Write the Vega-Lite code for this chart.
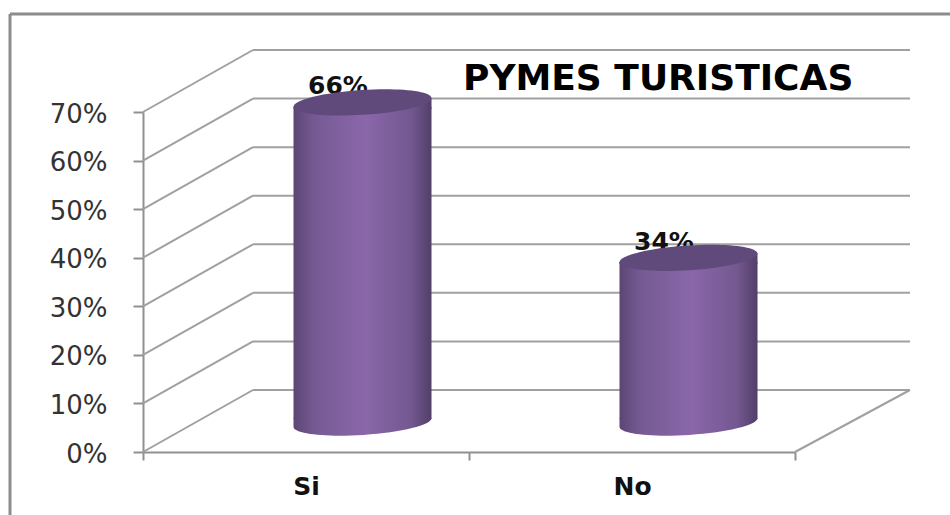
{
"$schema":"https://vega.github.io/schema/vega-lite/v6.json",
"width":652,"height":340,
"autosize":"none",
"padding":{"left":143,"top":112,"right":155,"bottom":63},
"background":"white",
"view":{"stroke":null},
"title":{"text":"PYMES TURISTICAS","anchor":"start","frame":"group","orient":"top","dx":320,"dy":135,"offset":22,"baseline":"alphabetic","font":"DejaVu Sans","fontWeight":"bold","fontSize":36,"color":"#000000"},
"datasets":{
"bars":[{"respuesta":"Si","porcentaje":0.66},{"respuesta":"No","porcentaje":0.34}],
"grid":[{"v":0},{"v":0.1},{"v":0.2},{"v":0.3},{"v":0.4},{"v":0.5},{"v":0.6},{"v":0.7}]
},
"layer":[
{"data":{"name":"grid"},"mark":{"type":"rule","color":"#a0a0a0","strokeWidth":2,"y2Offset":-62},
 "encoding":{"x":{"value":0},"x2":{"value":110},"y":{"field":"v","type":"quantitative","scale":{"domain":[0,0.7],"nice":false},"axis":{"values":[0,0.1,0.2,0.3,0.4,0.5,0.6,0.7],"format":".0%","title":null,"grid":false,"domainColor":"#909090","domainWidth":2,"tickColor":"#909090","tickWidth":2,"tickSize":10,"labelFont":"DejaVu Sans","labelFontSize":26,"labelColor":"#333333","labelPadding":26,"labelOffset":2}},"y2":{"field":"v"}}},
{"data":{"name":"grid"},"mark":{"type":"rule","color":"#a0a0a0","strokeWidth":2,"yOffset":-62},
 "encoding":{"x":{"value":110},"x2":{"value":767},"y":{"field":"v","type":"quantitative"}}},
{"data":{"values":[{"v":0}]},"mark":{"type":"rule","color":"#a0a0a0","strokeWidth":2,"y2Offset":-62},
 "encoding":{"x":{"value":652},"x2":{"value":767},"y":{"field":"v","type":"quantitative"},"y2":{"field":"v"}}},
{"data":{"values":[{"v":0}]},"mark":{"type":"rule","color":"#8c8c8c","strokeWidth":3},
 "encoding":{"x":{"value":-133},"x2":{"value":807},"y":{"value":-98}}},
{"data":{"values":[{"v":0}]},"mark":{"type":"rule","color":"#8c8c8c","strokeWidth":3},
 "encoding":{"x":{"value":-133},"y":{"value":-98},"y2":{"value":403}}},
{"data":{"name":"bars"},"mark":{"type":"text","font":"DejaVu Sans","fontWeight":"bold","fontSize":25,"color":"#111111","baseline":"alphabetic","align":"center","xOffset":32,"yOffset":-37},
 "encoding":{"x":{"field":"respuesta","type":"nominal","sort":null,"scale":{"domain":["Si","No"],"paddingInner":0,"paddingOuter":0},"axis":{"title":null,"tickBand":"extent","labelAngle":0,"grid":false,"domainColor":"#909090","domainWidth":2,"tickColor":"#909090","tickWidth":2,"tickSize":8,"labelFont":"DejaVu Sans","labelFontWeight":"bold","labelFontSize":25,"labelColor":"#111111","labelPadding":14}},"y":{"field":"porcentaje","type":"quantitative"},"text":{"field":"porcentaje","type":"quantitative","format":".0%"}}},
{"data":{"name":"bars"},"mark":{"type":"bar","width":138,"xOffset":56.5,"yOffset":-24.5,"y2Offset":-33,
 "fill":{"x1":0,"x2":1,"y1":0,"y2":0,"gradient":"linear","stops":[{"offset":0,"color":"#5c4674"},{"offset":0.15,"color":"#755a92"},{"offset":0.52,"color":"#8a67aa"},{"offset":0.85,"color":"#735890"},{"offset":1,"color":"#523f68"}]}},
 "encoding":{"x":{"field":"respuesta","type":"nominal"},"y":{"field":"porcentaje","type":"quantitative"},"y2":{"datum":0}}},
{"data":{"name":"bars"},"mark":{"type":"point","filled":true,"opacity":1,"size":19044,"xOffset":56.5,"yOffset":-29,"shape":"M-1,0.065L1,-0.065L1,0.09L-1,0.09Z",
 "fill":{"x1":0,"x2":1,"y1":0,"y2":0,"gradient":"linear","stops":[{"offset":0,"color":"#5c4674"},{"offset":0.15,"color":"#755a92"},{"offset":0.52,"color":"#8a67aa"},{"offset":0.85,"color":"#735890"},{"offset":1,"color":"#523f68"}]}},
 "encoding":{"x":{"field":"respuesta","type":"nominal"},"y":{"field":"porcentaje","type":"quantitative"}}},
{"data":{"name":"bars"},"mark":{"type":"point","filled":true,"opacity":1,"size":19044,"xOffset":56.5,"yOffset":-29,"color":"#604a7b","shape":"M-1,0.065A1.002,0.18,-3.7,1,1,1,-0.065A1.002,0.18,-3.7,1,1,-1,0.065Z"},
 "encoding":{"x":{"field":"respuesta","type":"nominal"},"y":{"field":"porcentaje","type":"quantitative"}}},
{"data":{"values":[{"respuesta":"Si"},{"respuesta":"No"}]},"mark":{"type":"point","filled":true,"opacity":1,"size":19044,"xOffset":56.5,"yOffset":-29.5,"shape":"M-1,-0.065L1,-0.065A1.002,0.18,-3.7,0,1,-1,0.065Z",
 "fill":{"x1":0,"x2":1,"y1":0,"y2":0,"gradient":"linear","stops":[{"offset":0,"color":"#5c4674"},{"offset":0.15,"color":"#755a92"},{"offset":0.52,"color":"#8a67aa"},{"offset":0.85,"color":"#735890"},{"offset":1,"color":"#523f68"}]}},
 "encoding":{"x":{"field":"respuesta","type":"nominal"},"y":{"datum":0}}}
]
}
